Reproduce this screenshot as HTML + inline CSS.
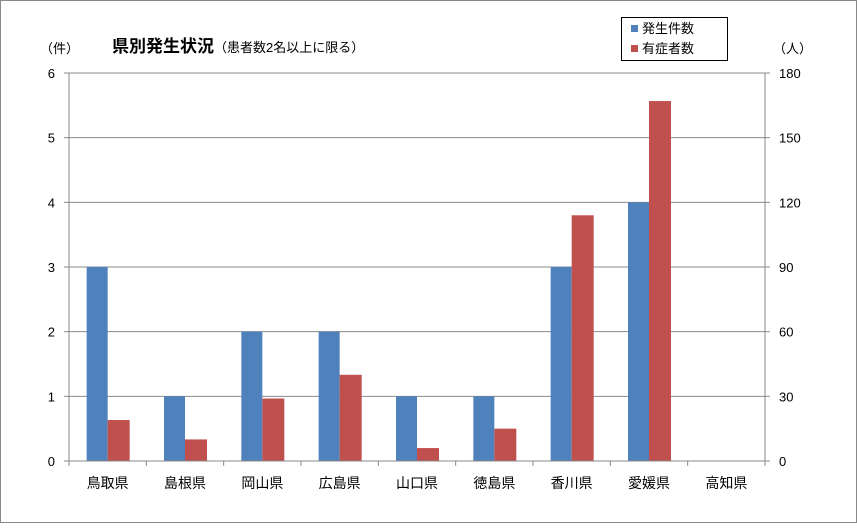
<!DOCTYPE html>
<html><head><meta charset="utf-8"><style>
body{margin:0;background:#fff}
svg text{font-family:"Liberation Sans","Noto Sans CJK JP",sans-serif;fill:#000}
</style></head><body>
<svg id="c" width="857" height="523" xmlns="http://www.w3.org/2000/svg">
<rect x="0.5" y="0.5" width="856" height="522" fill="#fff" stroke="#888"/>
<text x="112" y="52" font-size="17" font-weight="bold">県別発生状況<tspan font-size="13" font-weight="normal">（患者数2名以上に限る）</tspan></text>
<text x="40" y="53" font-size="13">（件）</text>
<text x="773" y="53" font-size="13">（人）</text>
<g>
<rect x="621.5" y="17.5" width="106" height="43" fill="#fff" stroke="#000"/>
<rect x="631" y="25" width="7" height="7" fill="#4F81BD"/>
<text x="642" y="33" font-size="13">発生件数</text>
<rect x="631" y="45" width="7" height="7" fill="#C0504D"/>
<text x="642" y="53" font-size="13">有症者数</text>
</g>
<g id="plot"></g>
</svg>
<script>
const categories=["鳥取県","島根県","岡山県","広島県","山口県","徳島県","香川県","愛媛県","高知県"];
const cases=[3,1,2,2,1,1,3,4,0];
const patients=[19,10,29,40,6,15,114,167,0];
const leftTicks=[0,1,2,3,4,5,6];
const rightTicks=[0,30,60,90,120,150,180];
const X0=69,X1=765,Y0=461,Y1=73;
const yL=v=>Y0-(v/6)*(Y0-Y1);
const yR=v=>Y0-(v/180)*(Y0-Y1);
const bw=(X1-X0)/categories.length;
const xc=i=>X0+bw*(i+0.5);
const NS="http://www.w3.org/2000/svg";
const g=document.getElementById('plot');
function mk(t,a,txt){const e=document.createElementNS(NS,t);for(const k in a)e.setAttribute(k,a[k]);if(txt!=null)e.textContent=txt;g.appendChild(e);return e;}
leftTicks.forEach((v,i)=>{
 const y=yL(v);
 if(v>0){const l=mk('line',{x1:X0,x2:X1,y1:y,y2:y,stroke:'#888','stroke-width':1});
 
 }
 const t=mk('text',{x:X0-14,y:y+5,'font-size':13,'text-anchor':'end'},v);
 
 
 mk('line',{x1:X0-5,x2:X0,y1:y,y2:y,stroke:'#888'});
 mk('line',{x1:X1,x2:X1+5,y1:y,y2:y,stroke:'#888'});
});
rightTicks.forEach(v=>{
 const t=mk('text',{x:X1+14,y:yR(v)+5,'font-size':13},v);
 
 
});
categories.forEach((c,i)=>{
 const hb=yL(cases[i]);
 const b=mk('rect',{x:xc(i)-21,y:hb,width:21,height:Y0-hb,fill:'#4F81BD'});
 
 
 const hr=yR(patients[i]);
 const r=mk('rect',{x:xc(i),y:hr,width:22,height:Y0-hr,fill:'#C0504D'});
 
 
 const t=mk('text',{x:xc(i),y:488,'font-size':14,'text-anchor':'middle'},c);
 
 
 mk('line',{x1:X0+bw*(i+1),x2:X0+bw*(i+1),y1:Y0,y2:Y0+5,stroke:'#888'});
});
mk('line',{x1:X0,x2:X0,y1:Y1,y2:Y0,stroke:'#888'});
mk('line',{x1:X1,x2:X1,y1:Y1,y2:Y0,stroke:'#888'});
mk('line',{x1:X0,x2:X1,y1:Y0,y2:Y0,stroke:'#888'});
mk('line',{x1:X0,x2:X0,y1:Y0,y2:Y0+5,stroke:'#888'});
</script>
</body></html>
